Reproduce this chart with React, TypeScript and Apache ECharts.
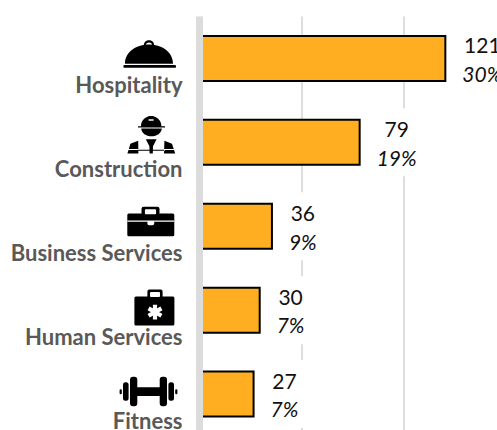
import React, { useEffect, useRef } from "react";
import * as echarts from "echarts";

const categories = ["Hospitality", "Construction", "Business Services", "Human Services", "Fitness"];
const counts = [121, 79, 36, 30, 27];
const shares = ["30%", "19%", "9%", "7%", "7%"];
const axisTicks = [0, 50, 100, 150];

const rr = (x: number, y: number, w: number, h: number, r: number) =>
  `M${x + r} ${y}L${x + w - r} ${y}Q${x + w} ${y} ${x + w} ${y + r}L${x + w} ${y + h - r}Q${x + w} ${y + h} ${x + w - r} ${y + h}L${x + r} ${y + h}Q${x} ${y + h} ${x} ${y + h - r}L${x} ${y + r}Q${x} ${y} ${x + r} ${y}Z`;

const arm = (cx: number, cy: number, len: number, t: number, deg: number) => {
  const a = (deg * Math.PI) / 180;
  const ux = Math.cos(a), uy = Math.sin(a), vx = -uy, vy = ux;
  const p = (s: number, q: number) => `${(cx + ux * s + vx * q).toFixed(2)} ${(cy + uy * s + vy * q).toFixed(2)}`;
  return `M${p(-len, -t)}L${p(len, -t)}L${p(len, t)}L${p(-len, t)}Z`;
};

// Icon outlines: x is in page pixels, y is relative to the bar centre.
const iconBlack = [
  // cloche
  "M125 5.2C125 -7 137 -14 149 -14C161 -14 173 -7 173 5.2Z" +
    "M143.8 -13C143.8 -20 154.2 -20 154.2 -13L152.2 -13C152.2 -16.8 145.8 -16.8 145.8 -13Z" +
    rr(123.4, 6.6, 52.6, 2.8, 1.2),
  // worker
  "M138 -16.2L141 -16.2C141 -21 144 -24.5 148.6 -26L148.6 -21.5L153.6 -21.5L153.6 -26C158.4 -24.5 161.4 -21 161.4 -16.2L165 -16.2L165 -14.8L138 -14.8Z" +
    "M148.6 -26.4L153.6 -26.4L153.6 -23L148.6 -23Z" +
    "M141.2 -13.8L161.8 -13.8C161.4 -9 157 -6 151.5 -6C146 -6 141.6 -9 141.2 -13.8Z" +
    "M127.4 11.2L130.4 1.4L138.2 -1.6L138.4 11.2Z" +
    "M175.2 11.2L172 1.4L164.4 -1.6L164 11.2Z" +
    "M145.8 -3L156.6 -3L153 4L152.8 11.2L149.6 11.2L149.4 4Z" +
    rr(138, 7.4, 27, 0.9, 0.2),
  // briefcase
  rr(127.3, -12.8, 47, 22.7, 1.5) + rr(141.5, -19.5, 18, 8, 2),
  // medical case
  rr(134.4, -13.7, 40, 29, 1.5) + rr(147.4, -20.7, 15.2, 9, 2),
  // dumbbell
  rr(136, -6.8, 25, 8.8, 0) + rr(130, -17.4, 7.3, 29.6, 3) + rr(159.7, -17.4, 7.3, 29.6, 3) +
    rr(123, -11.8, 5.6, 18.4, 2.5) + rr(168.4, -11.8, 5.6, 18.4, 2.5) +
    rr(119.6, -4.7, 2.2, 4.8, 1) + rr(175.2, -4.7, 2.2, 4.8, 1),
];

const iconWhite = [
  "",
  rr(127, 6.6, 11.6, 1, 0) + rr(164, 6.6, 11.6, 1, 0),
  rr(144.9, -17, 11.2, 5, 1) + rr(127.3, -5.8, 47, 1.4, 0) + rr(147.3, -5.6, 7, 4.6, 2),
  rr(150, -18.2, 10, 5, 1) + arm(155, 1.9, 7.4, 2.1, 90) + arm(155, 1.9, 7.4, 2.1, 30) + arm(155, 1.9, 7.4, 2.1, 150),
  "",
];

iconBlack.forEach((d, i) => {
  echarts.graphic.registerShape(`iconBlack${i}`, echarts.graphic.extendPath(d, {}));
  if (iconWhite[i]) echarts.graphic.registerShape(`iconWhite${i}`, echarts.graphic.extendPath(iconWhite[i], {}));
});

export default function App() {
  const ref = useRef<HTMLDivElement>(null);
  useEffect(() => {
    const chart = echarts.init(ref.current!, null, { renderer: "svg" });
    chart.setOption({
      animation: false,
      backgroundColor: "#ffffff",
      grid: { left: 199.5, top: 16.5, width: 306, height: 419.5, containLabel: false, outerBoundsMode: "none" },
      xAxis: {
        type: "value",
        min: axisTicks[0],
        max: axisTicks[axisTicks.length - 1],
        interval: axisTicks[1],
        axisLabel: { show: false },
        axisLine: { show: false },
        axisTick: { show: false },
        splitLine: { show: true, lineStyle: { color: "#dedede", width: 2 } },
      },
      yAxis: {
        type: "category",
        inverse: true,
        data: categories,
        z: 5,
        axisTick: { show: false },
        axisLine: { show: true, lineStyle: { color: "#dcdcdc", width: 7, cap: "butt" } },
        axisLabel: {
          margin: 17,
          align: "right",
          formatter: (v: string) => `{s| }\n{n|${v}}`,
          rich: {
            s: { lineHeight: 53, fontSize: 10 },
            n: { lineHeight: 22, fontFamily: "Lato", fontWeight: "bold", fontSize: 22, color: "#595959", align: "right" },
          },
        },
      },
      series: [
        {
          type: "bar",
          data: counts,
          barWidth: 47,
          itemStyle: { color: "#ffae22", borderColor: "#000000", borderWidth: 2 },
          label: {
            show: true,
            position: "right",
            distance: 8,
            backgroundColor: "#ffffff",
            padding: [6, 8, 5, 8],
            formatter: (p: any) => `{v|${counts[p.dataIndex]}}\n{p|${shares[p.dataIndex]}}`,
            rich: {
              v: { fontFamily: "Lato", fontSize: 21, lineHeight: 28.5, color: "#111111", align: "center" },
              p: { fontFamily: "Lato", fontStyle: "italic", fontSize: 21, lineHeight: 28.5, color: "#111111", align: "center" },
            },
          },
        },
      ],
    });
    const graphicChildren: any[] = [];
    categories.forEach((c, i) => {
      const cy = chart.convertToPixel({ yAxisIndex: 0 }, c) as number;
      graphicChildren.push({ type: `iconBlack${i}`, x: 0, y: cy, z: 10, style: { fill: "#000000" } });
      if (iconWhite[i]) graphicChildren.push({ type: `iconWhite${i}`, x: 0, y: cy, z: 11, style: { fill: "#ffffff" } });
    });
    chart.setOption({ graphic: graphicChildren });
    return () => chart.dispose();
  }, []);
  return <div ref={ref} style={{ position: "absolute", left: 0, top: 0, width: 497, height: 430 }} />;
}
